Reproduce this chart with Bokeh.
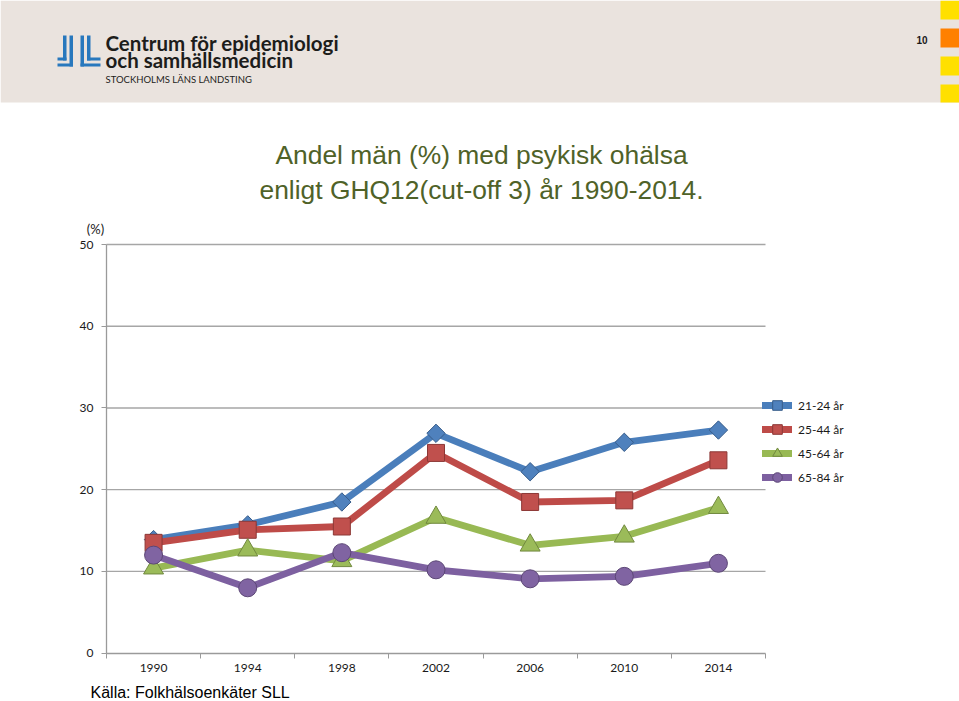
from bokeh.plotting import figure
from bokeh.models import (Range1d, FixedTicker, Legend, LegendItem, LinearAxis)
from bokeh.core.properties import value
from bokeh.embed import file_html
from bokeh.resources import INLINE

# ---------------- data ----------------
years = ["1990", "1994", "1998", "2002", "2006", "2010", "2014"]
age_21_24 = [13.9, 15.7, 18.5, 26.9, 22.2, 25.8, 27.3]
age_25_44 = [13.5, 15.1, 15.5, 24.5, 18.5, 18.7, 23.6]
age_45_64 = [10.4, 12.6, 11.3, 16.6, 13.2, 14.3, 17.8]
age_65_84 = [12.0, 8.0, 12.3, 10.2, 9.1, 9.4, 11.0]
series_names = ["21-24 år", "25-44 år", "45-64 år", "65-84 år"]
y_ticks = [0, 10, 20, 30, 40, 50]
y_max = 50

title_lines = ["Andel män (%) med psykisk ohälsa", "enligt GHQ12(cut-off 3) år 1990-2014."]
unit_text = "(%)"
source_text = "Källa: Folkhälsoenkäter SLL"
logo_lines = ["Centrum för epidemiologi", "och samhällsmedicin", "STOCKHOLMS LÄNS LANDSTING"]
page_number = "10"

# ---------------- page geometry (pixels) ----------------
W, H = 959, 701
PLOT_L, PLOT_R = 106, 765      # plot area left / right edge
PLOT_T, PLOT_B = 244, 652.7    # plot area top / bottom edge

n = len(years)
kx = (PLOT_R - PLOT_L) / n
ky = (PLOT_B - PLOT_T) / y_max

# whole canvas is the frame; default ranges are page pixels (y downward)
p = figure(width=W, height=H, output_backend="svg", toolbar_location=None,
           x_range=Range1d(0, W), y_range=Range1d(H, 0),
           x_axis_type=None, y_axis_type=None, min_border=0, title=None)
p.outline_line_color = None
p.background_fill_color = "white"
p.border_fill_color = "white"

# chart ranges mapped onto the plot area
p.extra_x_ranges = {"cx": Range1d(-0.5 - PLOT_L / kx, n - 0.5 + (W - PLOT_R) / kx)}
p.extra_y_ranges = {"cy": Range1d(-(H - PLOT_B) / ky, y_max + PLOT_T / ky)}


def txt(x, y, s, font, size, color, align="left", style="normal"):
    p.text(x=[x], y=[y], text=[s], text_font=value(font), text_font_size=value(size),
           text_color=color, text_align=align, text_baseline="alphabetic",
           text_font_style=style)


# ---------------- header ----------------
p.quad(left=[0], right=[W], top=[0], bottom=[102], fill_color="#eae3de", line_color=None)
yellow, orange = "#FFE000", "#FF8000"
p.quad(left=[940] * 4, right=[W] * 4, top=[0, 28, 56, 84], bottom=[19, 47, 75, 102],
       fill_color=[yellow, orange, yellow, yellow], line_color=None)
txt(921.5, 39, page_number, "Liberation Sans", "10px", "#1a1a1a", align="center", style="bold")

blue = "#2878BD"
p.quad(left=[62.5, 57, 69, 57, 80, 80, 86.5, 86.5],
       right=[66, 66, 72.5, 72.5, 83.5, 100, 90, 100],
       top=[35, 57, 35, 63, 35, 63, 35, 57],
       bottom=[60, 60, 66, 66, 66, 66, 60, 60],
       fill_color=blue, line_color=None)
txt(105, 42, logo_lines[0], "Lato", "20.5px", "#1d1d1b", style="bold")
txt(105, 59.5, logo_lines[1], "Lato", "20.5px", "#1d1d1b", style="bold")
txt(105, 79, logo_lines[2], "Lato", "9.5px", "#1d1d1b")

# ---------------- titles / texts ----------------
txt(481, 154.5, title_lines[0], "Liberation Sans", "26.4px", "#4F6228", align="center")
txt(481, 189, title_lines[1], "Liberation Sans", "26.4px", "#4F6228", align="center")
txt(95, 228, unit_text, "Lato", "13px", "#1a1a1a", align="center")
txt(90, 692, source_text, "Liberation Sans", "16px", "#000000")

# ---------------- chart ----------------
xs = list(range(n))
axis_gray = "#9a9a9a"

# horizontal gridlines (plot-area width only)
grid_vals = [t for t in y_ticks if t > 0]
p.segment(x0=[-0.5] * len(grid_vals), x1=[n - 0.5] * len(grid_vals), y0=grid_vals, y1=grid_vals,
          line_color="#a6a6a6", line_width=1.3, x_range_name="cx", y_range_name="cy")

xaxis = LinearAxis(x_range_name="cx", y_range_name="cy", fixed_location=0,
                   bounds=(-0.5, n - 0.5),
                   ticker=FixedTicker(ticks=xs, minor_ticks=[i - 0.5 for i in range(n + 1)]))
xaxis.major_label_overrides = {i: yv for i, yv in enumerate(years)}
xaxis.major_tick_out = 0
xaxis.major_tick_in = 0
xaxis.minor_tick_out = 5
xaxis.minor_tick_in = 0
xaxis.minor_tick_line_color = axis_gray
xaxis.axis_line_color = axis_gray
xaxis.axis_line_width = 1.3
xaxis.major_label_standoff = 6
xaxis.major_label_text_font = "Lato"
xaxis.major_label_text_font_size = "12px"
xaxis.major_label_text_color = "#1a1a1a"
p.add_layout(xaxis, "below")

yaxis = LinearAxis(x_range_name="cx", y_range_name="cy", fixed_location=-0.5,
                   bounds=(0, y_max), ticker=FixedTicker(ticks=y_ticks, minor_ticks=[]))
yaxis.major_tick_out = 5
yaxis.major_tick_in = 0
yaxis.major_tick_line_color = axis_gray
yaxis.axis_line_color = axis_gray
yaxis.axis_line_width = 1.3
yaxis.major_label_standoff = 8
yaxis.major_label_text_font = "Lato"
yaxis.major_label_text_font_size = "12px"
yaxis.major_label_text_color = "#1a1a1a"
p.add_layout(yaxis, "left")

series = [age_21_24, age_25_44, age_45_64, age_65_84]
line_colors = ["#4A7EBB", "#BE4B48", "#98B954", "#7D60A0"]
fill_colors = ["#4F81BD", "#C0504D", "#9BBB59", "#8064A2"]
edge_colors = ["#385D8A", "#8C3836", "#71893F", "#5C4776"]
markers = ["square", "square", "triangle", "circle"]
sizes = [13, 17, 20, 18]
angles = [0.785398, 0, 0, 0]

items = []
for vals, name, lc, fc, ec, mk, sz, ang in zip(series, series_names, line_colors,
                                              fill_colors, edge_colors, markers, sizes, angles):
    rl = p.line(xs, vals, line_width=6.8, line_color=lc, line_join="round", line_cap="round",
                x_range_name="cx", y_range_name="cy")
    rm = p.scatter(xs, vals, marker=mk, size=sz, angle=ang, fill_color=fc,
                   line_color=ec, line_width=1, x_range_name="cx", y_range_name="cy")
    items.append(LegendItem(label=name, renderers=[rl, rm]))

LEG_X, LEG_BOTTOM = 762, 489
legend = Legend(items=items, location=(LEG_X, H - LEG_BOTTOM), orientation="vertical",
                label_text_font="Lato", label_text_font_size="12px",
                label_text_color="#1a1a1a", label_standoff=6,
                glyph_width=30, glyph_height=24, spacing=0, padding=0, margin=0,
                border_line_color=None, background_fill_alpha=0)
p.add_layout(legend, "center")

open("out.html", "w").write(file_html(p, INLINE))
